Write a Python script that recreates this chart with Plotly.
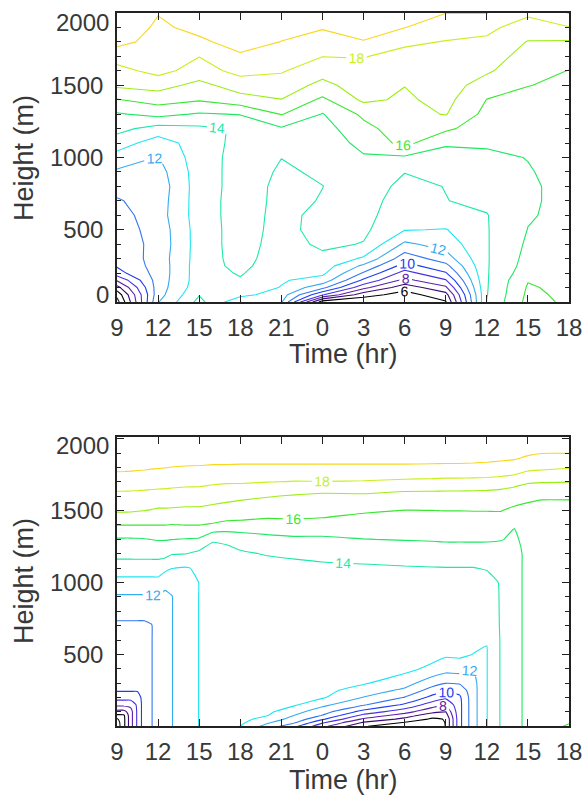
import numpy as np
import plotly.graph_objects as go

# ---------------- data ----------------
levels = [5, 6, 7, 8, 9, 10, 11, 12, 13, 14, 15, 16, 17, 18, 19]
level_colors = ['#141414', '#000000', '#3c0a78', '#5c1ea8', '#4630e0', '#1e3cf0',
                '#3478f0', '#34aaf0', '#1ee6f0', '#1ee8aa', '#1ee864', '#3ae832',
                '#9cee14', '#c8f01e', '#f8d81e']
labelled_levels = [6, 8, 10, 12, 14, 16, 18]

tick_vals = [9, 12, 15, 18, 21, 24, 27, 30, 33, 36, 39, 42]
tick_text = ['9', '12', '15', '18', '21', '0', '3', '6', '9', '12', '15', '18']
height_ticks = [0, 500, 1000, 1500, 2000]
height_labels = ['0', '500', '1000', '1500', '2000']

# upper panel (observed, 3-hourly)
obs_times = [9, 12, 15, 18, 21, 24, 27, 30, 33, 36, 39, 42]
obs_heights = [0, 50, 100, 150, 200, 250, 300, 400, 500, 600, 700, 800, 900, 1000,
               1100, 1200, 1300, 1400, 1500, 1600, 1700, 1800, 1900, 2000]
obs_profiles = [
    [4.6, 5.3, 6.6, 8.1, 9.6, 10.1, 10.2, 10.35, 10.5, 10.6, 10.9, 11.35, 11.85, 12.6, 13.5, 14.3, 14.9, 15.95, 17.2, 17.7, 18.4, 19.3, 19.8, 20.2],
    [11.95, 11.6, 11.5, 11.45, 11.4, 11.4, 11.45, 11.35, 11.4, 11.55, 11.5, 11.4, 11.6, 11.95, 12.5, 13.6, 15.3, 16.4, 17.4, 18.3, 18.5, 18.65, 18.8, 19.05],
    [14.3, 13.95, 13.6, 13.5, 13.5, 13.5, 13.45, 13.45, 13.45, 13.5, 13.5, 13.5, 13.5, 13.55, 13.5, 13.8, 14.9, 16.1, 16.7, 17.6, 18.02, 18.8, 19.3, 19.6],
    [12.2, 13.3, 13.7, 13.9, 14.1, 14.3, 14.4, 14.45, 14.45, 14.45, 14.45, 14.4, 14.4, 14.35, 14.3, 14.1, 15.05, 16.6, 17.5, 18.3, 18.85, 19.4, 19.7, 20.0],
    [12.1, 12.5, 12.95, 13.1, 13.2, 13.3, 13.4, 13.55, 13.65, 13.7, 13.75, 13.8, 13.9, 14.01, 14.4, 14.9, 16.05, 16.98, 17.5, 18.1, 18.4, 18.98, 19.3, 19.5],
    [5.4, 9.1, 11.3, 12.6, 13.2, 13.5, 13.75, 14.2, 14.4, 14.3, 14.05, 13.99, 14.1, 14.2, 14.4, 14.6, 14.95, 15.8, 16.75, 17.35, 18.02, 18.55, 19.08, 19.4],
    [5.2, 6.4, 8.3, 9.8, 10.9, 11.8, 12.85, 13.95, 14.2, 14.3, 14.35, 14.4, 14.6, 14.9, 15.3, 15.7, 16.2, 17.2, 17.45, 17.7, 18.05, 18.95, 19.4, 19.8],
    [5.3, 5.6, 6.4, 7.7, 8.6, 9.6, 10.4, 11.8, 13.05, 13.4, 13.6, 13.8, 14.02, 14.85, 16.3, 16.55, 16.7, 16.85, 17.02, 17.3, 17.65, 18.2, 19.02, 19.4],
    [5.9, 6.6, 7.8, 8.9, 9.9, 10.7, 11.5, 12.4, 12.95, 13.7, 13.98, 14.02, 14.35, 14.7, 15.1, 16.2, 17.05, 17.3, 17.5, 17.65, 17.8, 17.95, 18.5, 19.01],
    [14.05, 13.96, 13.93, 13.92, 13.92, 13.92, 13.92, 13.93, 13.94, 13.96, 14.2, 14.4, 14.6, 14.85, 15.1, 15.4, 15.7, 15.98, 16.5, 17.15, 17.5, 17.85, 18.2, 19.03],
    [16.3, 16.2, 16.1, 15.95, 15.6, 15.4, 15.3, 15.15, 15.02, 14.92, 14.9, 14.9, 14.95, 15.02, 15.2, 15.4, 15.6, 15.8, 16.02, 16.3, 16.6, 16.95, 17.6, 18.15],
    [15.85, 15.8, 15.75, 15.7, 15.6, 15.5, 15.45, 15.4, 15.3, 15.25, 15.2, 15.2, 15.25, 15.3, 15.4, 15.5, 15.6, 15.75, 15.85, 15.98, 16.4, 16.9, 17.95, 19.05],
]

# lower panel (model)
model_times = [9, 9.5, 10, 10.5, 11, 11.5, 12, 12.5, 13, 14, 15, 16, 17, 18, 20, 22,
               24, 27, 30, 32, 33, 34, 35, 36, 37, 38, 39, 40, 42]
model_heights = [0, 25, 50, 75, 100, 150, 200, 250, 300, 400, 500, 600, 700, 800,
                 900, 1000, 1100, 1200, 1300, 1400, 1500, 1600, 1700, 1800, 1900, 2010]
model_profiles = [
    [4.4, 4.5, 4.85, 5.8, 6.6, 8.3, 9.4, 10.1, 10.2, 10.3, 10.4, 10.5, 10.8, 11.38, 11.88, 12.66, 13.53, 14.28, 14.9, 16.01, 17.12, 17.74, 18.49, 19.21, 19.74, 20.3],
    [5.75, 5.75, 5.75, 5.85, 6.6, 8.3, 9.4, 10.1, 10.2, 10.3, 10.4, 10.5, 10.8, 11.38, 11.88, 12.66, 13.53, 14.28, 14.9, 16.01, 17.12, 17.74, 18.49, 19.2, 19.73, 20.3],
    [7.6, 7.6, 7.6, 7.6, 7.6, 8.3, 9.4, 10.1, 10.2, 10.3, 10.4, 10.5, 10.8, 11.38, 11.88, 12.66, 13.53, 14.28, 14.9, 16.01, 17.1, 17.73, 18.47, 19.18, 19.71, 20.28],
    [9.2, 9.2, 9.2, 9.2, 9.2, 9.2, 9.45, 10.1, 10.2, 10.3, 10.4, 10.5, 10.8, 11.38, 11.88, 12.66, 13.53, 14.29, 14.92, 16.01, 17.05, 17.71, 18.45, 19.15, 19.68, 20.25],
    [10.6, 10.6, 10.6, 10.6, 10.6, 10.6, 10.6, 10.6, 10.6, 10.6, 10.6, 10.6, 10.8, 11.38, 11.88, 12.66, 13.52, 14.3, 14.95, 16.01, 17.0, 17.69, 18.42, 19.12, 19.65, 20.2],
    [10.95, 10.95, 10.95, 10.95, 10.95, 10.95, 10.95, 10.95, 10.95, 10.95, 10.95, 10.95, 10.95, 11.38, 11.9, 12.67, 13.51, 14.31, 15.01, 16.01, 16.95, 17.66, 18.39, 19.08, 19.6, 20.15],
    [11.35, 11.35, 11.35, 11.35, 11.35, 11.35, 11.35, 11.35, 11.35, 11.35, 11.35, 11.35, 11.35, 11.35, 11.97, 12.68, 13.5, 14.32, 15.06, 16.01, 16.87, 17.63, 18.36, 19.05, 19.55, 20.05],
    [11.7, 11.7, 11.7, 11.7, 11.7, 11.7, 11.7, 11.7, 11.7, 11.7, 11.7, 11.7, 11.7, 11.7, 11.85, 12.18, 13.29, 14.3, 15.05, 16.01, 16.87, 17.63, 18.35, 19.02, 19.55, 20.05],
    [11.97, 11.97, 11.97, 11.97, 11.97, 11.97, 11.97, 11.97, 11.97, 11.97, 11.97, 11.97, 11.97, 11.97, 11.97, 12.25, 13.02, 14.05, 15.02, 15.97, 16.85, 17.6, 18.3, 18.98, 19.5, 20.0],
    [12.55, 12.55, 12.55, 12.55, 12.55, 12.55, 12.55, 12.55, 12.55, 12.55, 12.55, 12.55, 12.55, 12.55, 12.55, 12.55, 12.92, 14.02, 14.95, 16.01, 16.8, 17.55, 18.25, 18.95, 19.45, 19.95],
    [13.02, 13.02, 13.02, 13.02, 13.02, 13.02, 13.02, 13.02, 13.02, 13.02, 13.02, 13.02, 13.02, 13.02, 13.02, 13.02, 13.15, 13.75, 14.89, 16.01, 16.8, 17.53, 18.24, 18.93, 19.45, 19.95],
    [13.3, 13.3, 13.3, 13.3, 13.3, 13.3, 13.3, 13.3, 13.3, 13.3, 13.3, 13.3, 13.3, 13.3, 13.3, 13.3, 13.3, 13.6, 14.1, 15.9, 16.7, 17.4, 18.15, 18.9, 19.4, 19.9],
    [13.45, 13.45, 13.45, 13.45, 13.45, 13.45, 13.45, 13.45, 13.45, 13.45, 13.45, 13.45, 13.45, 13.45, 13.45, 13.45, 13.5, 13.8, 14.12, 15.75, 16.6, 17.3, 18.1, 18.9, 19.4, 19.9],
    [12.98, 13.2, 13.35, 13.45, 13.5, 13.55, 13.55, 13.55, 13.55, 13.55, 13.55, 13.55, 13.56, 13.57, 13.58, 13.6, 13.62, 13.9, 14.3, 15.75, 16.5, 17.2, 18.1, 18.88, 19.4, 19.9],
    [11.6, 12.1, 12.6, 13.02, 13.2, 13.4, 13.5, 13.55, 13.55, 13.55, 13.56, 13.57, 13.58, 13.6, 13.62, 13.65, 13.7, 14.05, 14.65, 15.7, 16.35, 17.05, 18.02, 18.88, 19.4, 19.9],
    [10.2, 11.05, 11.6, 11.95, 12.3, 13.1, 13.35, 13.45, 13.5, 13.52, 13.54, 13.56, 13.58, 13.6, 13.62, 13.65, 13.75, 14.15, 14.8, 15.75, 16.35, 16.9, 17.95, 18.88, 19.4, 19.85],
    [8.3, 9.1, 10.15, 10.95, 11.4, 12.25, 13.1, 13.3, 13.4, 13.5, 13.52, 13.54, 13.56, 13.58, 13.6, 13.63, 13.85, 14.2, 14.85, 15.55, 16.45, 16.75, 17.97, 18.88, 19.4, 19.85],
    [6.05, 6.85, 7.85, 8.7, 9.6, 11.1, 11.95, 12.55, 13.1, 13.35, 13.45, 13.5, 13.52, 13.55, 13.58, 13.6, 13.9, 14.25, 14.98, 15.55, 16.1, 16.8, 17.93, 18.88, 19.4, 19.8],
    [5.6, 5.9, 6.75, 7.5, 8.35, 9.85, 10.95, 11.8, 12.4, 13.3, 13.45, 13.5, 13.52, 13.55, 13.58, 13.65, 13.95, 14.3, 15.05, 15.5, 15.98, 16.6, 17.8, 18.88, 19.4, 19.8],
    [5.5, 5.7, 5.85, 6.4, 7.25, 8.5, 9.7, 10.6, 11.4, 12.75, 13.4, 13.5, 13.52, 13.55, 13.58, 13.65, 13.97, 14.33, 15.1, 15.5, 15.99, 16.6, 17.75, 18.86, 19.4, 19.8],
    [6.02, 6.02, 6.05, 6.5, 6.98, 8.1, 9.2, 10.2, 11.02, 12.4, 13.15, 13.4, 13.5, 13.55, 13.58, 13.65, 13.98, 14.35, 15.15, 15.5, 16.01, 16.6, 17.7, 18.85, 19.4, 19.8],
    [9.7, 9.7, 9.7, 9.7, 9.7, 9.7, 9.8, 10.35, 11.1, 12.45, 13.2, 13.45, 13.5, 13.55, 13.58, 13.65, 13.98, 14.35, 15.15, 15.5, 16.01, 16.6, 17.7, 18.85, 19.4, 19.8],
    [11.6, 11.6, 11.6, 11.6, 11.6, 11.6, 11.6, 11.6, 11.65, 11.98, 12.98, 13.35, 13.5, 13.55, 13.58, 13.65, 13.98, 14.38, 15.15, 15.52, 16.02, 16.58, 17.68, 18.83, 19.38, 19.8],
    [12.97, 12.97, 12.97, 12.97, 12.97, 12.97, 12.97, 12.97, 12.97, 12.97, 12.97, 13.02, 13.45, 13.55, 13.6, 13.75, 14.05, 14.45, 15.12, 15.55, 16.02, 16.55, 17.65, 18.8, 19.35, 19.8],
    [14.05, 14.05, 14.05, 14.05, 14.05, 14.05, 14.05, 14.05, 14.05, 14.05, 14.05, 14.05, 14.05, 14.05, 14.05, 14.05, 14.15, 14.5, 15.05, 15.55, 16.03, 16.5, 17.55, 18.75, 19.3, 19.8],
    [14.6, 14.6, 14.6, 14.6, 14.6, 14.6, 14.6, 14.6, 14.6, 14.6, 14.6, 14.6, 14.6, 14.6, 14.6, 14.6, 14.6, 14.6, 14.85, 15.05, 15.8, 16.45, 17.3, 18.7, 19.25, 19.75],
    [15.3, 15.3, 15.3, 15.3, 15.3, 15.3, 15.3, 15.3, 15.3, 15.3, 15.3, 15.3, 15.3, 15.3, 15.3, 15.3, 15.3, 15.3, 15.3, 15.4, 15.75, 16.2, 17.1, 18.3, 19.15, 19.7],
    [15.7, 15.6, 15.6, 15.6, 15.6, 15.6, 15.6, 15.6, 15.6, 15.6, 15.6, 15.6, 15.6, 15.6, 15.6, 15.6, 15.6, 15.6, 15.6, 15.6, 15.7, 16.1, 17.05, 18.2, 19.02, 19.6],
    [16.08, 15.97, 15.85, 15.8, 15.8, 15.8, 15.8, 15.8, 15.8, 15.8, 15.8, 15.8, 15.8, 15.8, 15.8, 15.8, 15.8, 15.8, 15.8, 15.8, 15.85, 16.05, 17.02, 18.05, 19.02, 19.55],
]

# ---------------- figure ----------------
W, H = 587, 795
FONT = 'Liberation Sans'
TXT = '#383838'
AXC = '#222222'
TICK_SIZE = 24

fig = go.Figure()


def add_panel(times, heights, profiles, xa, ya, smoothing):
    z = np.array(profiles).T.tolist()
    for lev, col in zip(levels, level_colors):
        fig.add_trace(go.Contour(
            x=times, y=heights, z=z, xaxis=xa, yaxis=ya,
            autocontour=False,
            contours=dict(start=lev, end=lev, size=1, coloring='none',
                          showlabels=lev in labelled_levels,
                          labelfont=dict(size=14, color=col, family=FONT)),
            line=dict(color=col, width=1.1, smoothing=smoothing),
            showscale=False, hoverinfo='skip'))


add_panel(obs_times, obs_heights, obs_profiles, 'x', 'y', 0)
add_panel(model_times, model_heights, model_profiles, 'x2', 'y2', 0.4)

x_dom = [117 / W, 569 / W]
common_x = dict(range=[9, 42], tickmode='array', tickvals=tick_vals, ticktext=tick_text,
                ticks='inside', ticklen=7, tickwidth=1, tickcolor=AXC,
                showline=True, linewidth=1.6, linecolor=AXC, mirror='ticks',
                showgrid=False, zeroline=False, ticklabelstandoff=3, automargin=False,
                tickfont=dict(family=FONT, size=TICK_SIZE, color=TXT))
common_y = dict(ticks='inside', ticklen=7, tickwidth=1, tickcolor=AXC,
                showline=True, linewidth=1.6, linecolor=AXC, mirror='ticks',
                showgrid=False, zeroline=False, ticklabelstandoff=7, automargin=False,
                tickmode='array', tickvals=height_ticks,
                minor=dict(ticks='inside', ticklen=4, tickwidth=1, tickcolor=AXC,
                           tickmode='linear', tick0=0, dtick=100, showgrid=False),
                tickfont=dict(family=FONT, size=TICK_SIZE, color=TXT))

# end labels are nudged inward (as in the original), drawn separately below
top_text = ['', height_labels[1], height_labels[2], height_labels[3], '']
bot_text = ['', height_labels[1], height_labels[2], height_labels[3], '']

fig.update_layout(
    template='none',
    width=W, height=H, margin=dict(l=0, r=0, t=0, b=0, pad=0, autoexpand=False),
    autosize=False,
    paper_bgcolor='white', plot_bgcolor='white', showlegend=False,
    xaxis=dict(domain=x_dom, anchor='y', **common_x),
    yaxis=dict(domain=[1 - 302 / H, 1 - 13 / H], anchor='x', range=[0, 2000],
               ticktext=top_text, **common_y),
    xaxis2=dict(domain=x_dom, anchor='y2', **common_x),
    yaxis2=dict(domain=[1 - 726 / H, 1 - 437 / H], anchor='x2', range=[2, 2012],
                ticktext=bot_text, **common_y),
)

tick_font = dict(family=FONT, size=TICK_SIZE, color=TXT)
for (yp, txt) in [(23, height_labels[4]), (295, height_labels[0]), (445, height_labels[4])]:
    fig.add_annotation(x=110 / W, y=1 - yp / H, xref='paper', yref='paper', text=txt,
                       showarrow=False, font=tick_font, xanchor='right', yanchor='middle',
                       borderpad=0)

title_font = dict(family=FONT, size=27, color=TXT)
for (xp, yp, txt, ang) in [(343, 354, 'Time (hr)', 0), (343, 780, 'Time (hr)', 0),
                           (24, 158, 'Height (m)', -90), (24, 581, 'Height (m)', -90)]:
    fig.add_annotation(x=xp / W, y=1 - yp / H, xref='paper', yref='paper', text=txt,
                       showarrow=False, textangle=ang, font=title_font,
                       xanchor='center', yanchor='middle')

fig.write_html('out.html', config={'responsive': False},
               post_script="document.body.style.margin='0';document.body.style.overflow='hidden';")
